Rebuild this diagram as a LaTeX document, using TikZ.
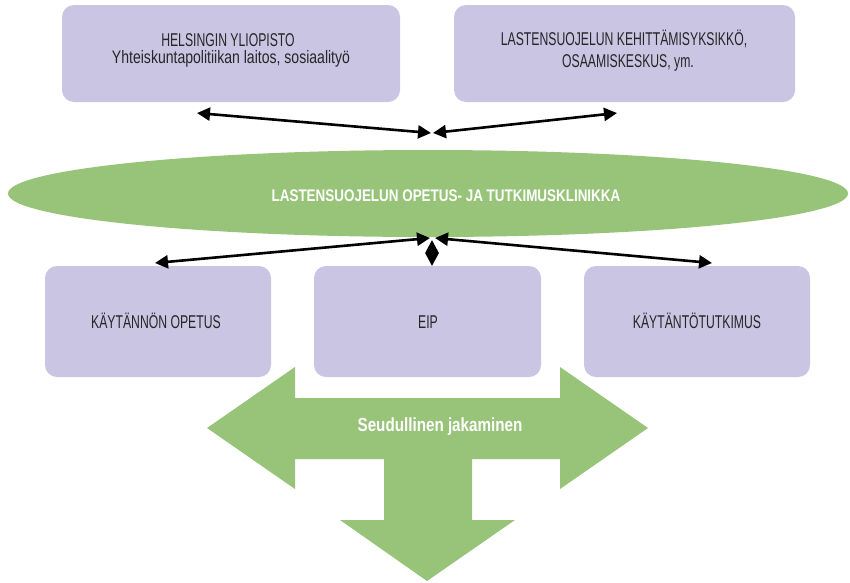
\documentclass[tikz,border=0pt]{standalone}
\usepackage{fontspec}
\setmainfont{Liberation Sans}[FakeStretch=0.78]
\newfontfamily\capf{Liberation Sans}[FakeStretch=0.66]
\newfontfamily\mixf{Liberation Sans}[FakeStretch=0.78]
\newfontfamily\boldf{Liberation Sans Bold}[FakeStretch=0.8]
\usetikzlibrary{arrows.meta,shapes.geometric}
\definecolor{lav}{HTML}{C9C5E3}
\definecolor{grn}{HTML}{98C47A}
\definecolor{txt}{HTML}{262626}
\begin{document}
\begin{tikzpicture}[x=1pt,y=-1pt,
  box/.style={fill=lav,draw=none,rounded corners=12pt,inner sep=0pt},
  lbl/.style={anchor=base,inner sep=0pt,text=txt},
  caps/.style={lbl,font=\capf\fontsize{18.5}{20}\selectfont},
  mixed/.style={lbl,font=\mixf\fontsize{18}{20}\selectfont},
  link/.style={line width=2.6pt,{Triangle[length=13pt,width=13pt]}-{Triangle[length=13pt,width=13pt]}},
  wtext/.style={anchor=base,inner sep=0pt,text=white,font=\boldf\fontsize{16.8}{19}\selectfont}]
\useasboundingbox (0,0) rectangle (850,582);
% top boxes
\node[box,minimum width=338pt,minimum height=97pt] (hy) at (231,53.5) {};
\node[caps] (hy1) at (228,46) {HELSINGIN YLIOPISTO};
\node[mixed] (hy2) at (231,63) {Yhteiskuntapolitiikan laitos, sosiaalityö};
\node[box,minimum width=341pt,minimum height=97pt] (lk) at (624.5,53.5) {};
\node[caps] (lk1) at (624,45) {LASTENSUOJELUN KEHITTÄMISYKSIKKÖ,};
\node[caps] (lk2) at (628,67) {OSAAMISKESKUS, ym.};
% ellipse
\node[ellipse,fill=grn,draw=none,minimum width=840pt,minimum height=87pt,inner sep=0pt] (klin) at (428,193.5) {};
\node[wtext] (klint) at (446,201) {LASTENSUOJELUN OPETUS- JA TUTKIMUSKLINIKKA};
% bottom boxes
\node[box,minimum width=226pt,minimum height=111pt] (ko) at (158,321.5) {};
\node[caps] (kot) at (156,328) {KÄYTÄNNÖN OPETUS};
\node[box,minimum width=227pt,minimum height=111pt] (eip) at (427.5,321.5) {};
\node[caps] (eipt) at (428,328) {EIP};
\node[box,minimum width=226pt,minimum height=111pt] (kt) at (697,321.5) {};
\node[caps] (ktt) at (697,328) {KÄYTÄNTÖTUTKIMUS};
% connectors
\coordinate (a1) at (197,113);
\coordinate (a2) at (431,133);
\coordinate (a3) at (433,133);
\coordinate (a4) at (617,113);
\draw[link] (a1) -- (a2);
\draw[link] (a3) -- (a4);
\coordinate (b0) at (430,238);
\coordinate (b1) at (155,263);
\coordinate (b2) at (435,238);
\coordinate (b3) at (712,263);
\draw[link] (b0) -- (b1);
\draw[link] (b2) -- (b3);
\coordinate (c0) at (432,240);
\coordinate (c1) at (432,266);
\draw[link] (c0) -- (c1);
% T arrow
\fill[grn] (207,428) -- (295,367) -- (295,398) -- (560,398) -- (560,367) -- (648,428)
  -- (560,489) -- (560,459) -- (472,459) -- (472,520) -- (515,520) -- (427,581)
  -- (340,520) -- (384,520) -- (384,459) -- (295,459) -- (295,489) -- cycle;
\node[wtext,font=\boldf\fontsize{19}{21}\selectfont] (sj) at (440,431) {Seudullinen jakaminen};
\end{tikzpicture}
\end{document}
